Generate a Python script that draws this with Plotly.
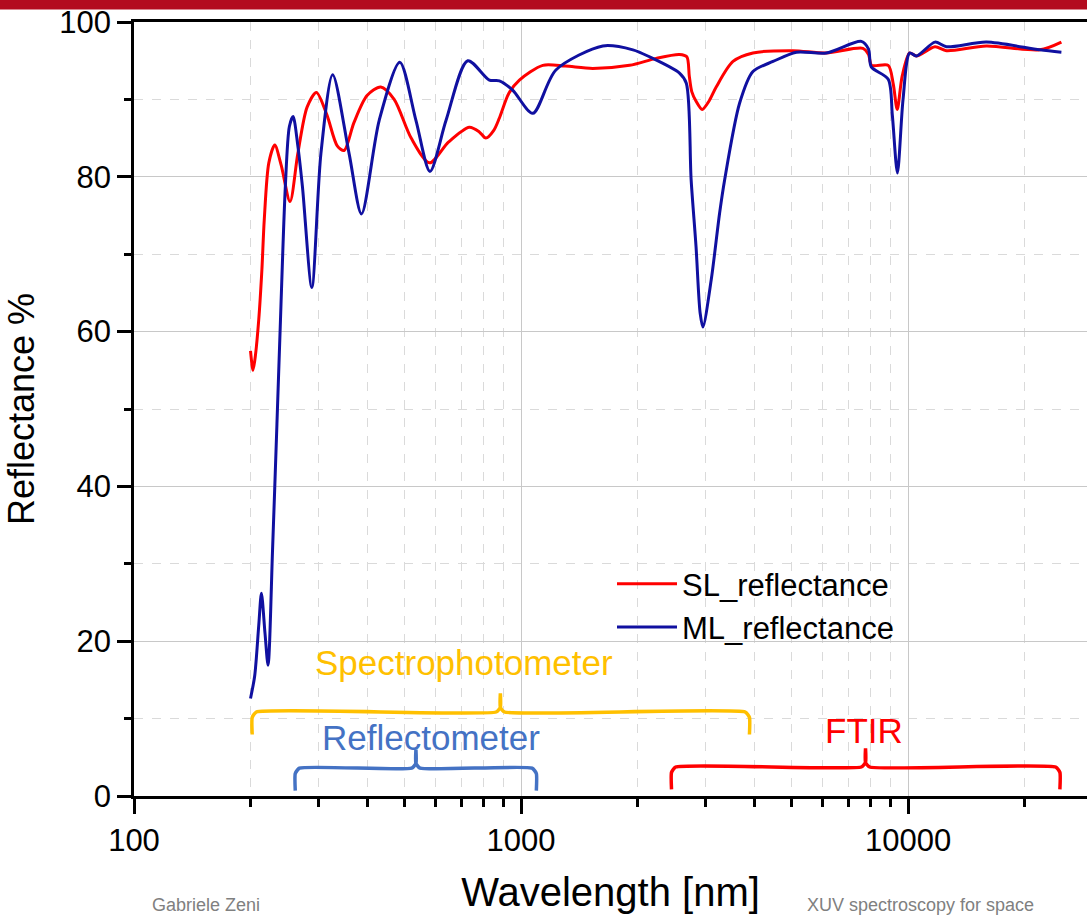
import math
import plotly.graph_objects as go

# ---------------- data ----------------
sl_wavelength = [200, 203, 206, 210, 214, 217, 223, 231, 240, 253, 265, 280, 296, 315, 335, 349,
                 370, 400, 434, 470, 520, 580, 650, 735, 780, 811, 850, 879, 930, 990, 1138, 1300,
                 1531, 1907, 2233, 2566, 2680, 2720, 2760, 2830, 2937, 3060, 3192, 3527, 3972, 5036,
                 6140, 7640, 7900, 8050, 8880, 9150, 9370, 9650, 10090, 10500, 11730, 12560, 15920,
                 21880, 24880]
sl_reflectance = [57.5, 55.0, 57.0, 61.5, 68.0, 74.4, 81.8, 84.1, 81.5, 76.8, 83.0, 89.0, 90.9, 88.0,
                  84.0, 83.4, 87.0, 90.5, 91.6, 90.0, 85.0, 81.8, 84.5, 86.4, 85.8, 85.0, 86.0, 87.6,
                  90.8, 92.5, 94.4, 94.3, 94.0, 94.4, 95.3, 95.8, 95.5, 93.0, 91.0, 89.8, 88.7, 89.8,
                  91.6, 94.9, 96.0, 96.3, 96.0, 96.6, 95.8, 94.4, 94.4, 92.0, 88.7, 93.0, 96.0, 95.6,
                  96.8, 96.3, 96.9, 96.4, 97.4]

ml_wavelength = [200, 205, 210, 213.4, 218, 222, 228, 234, 239, 246, 252, 257.6, 265, 272.4, 288,
                 304, 326, 359.5, 387, 430, 486, 535, 581.6, 640, 728, 828, 879, 951, 1072, 1230,
                 1626, 1945, 2147, 2566, 2672, 2750, 2831, 2901, 2950, 3099, 3257, 3356, 3668, 3972,
                 4476, 5145, 6140, 7570, 7900, 8030, 8880, 9100, 9380, 9700, 10090, 10500, 11730,
                 12560, 15920, 21880, 24880]
ml_reflectance = [12.6, 15.5, 22.0, 26.2, 21.0, 16.9, 31.8, 48.0, 61.5, 78.7, 86.5, 87.8, 84.0, 78.7,
                  65.7, 83.0, 93.2, 83.0, 75.2, 87.3, 94.8, 87.3, 80.7, 87.3, 95.0, 92.5, 92.4, 91.2,
                  88.2, 93.8, 96.9, 96.4, 95.5, 93.4, 92.1, 79.6, 71.0, 62.4, 60.6, 66.7, 75.3, 79.6,
                  89.5, 93.6, 94.9, 96.1, 96.0, 97.5, 96.5, 94.2, 92.6, 88.0, 80.5, 90.0, 96.0, 95.6,
                  97.4, 96.8, 97.4, 96.4, 96.1]

# instrument ranges (nm) shown by braces
range_names = ["Spectrophotometer", "Reflectometer", "FTIR"]
range_start = [202, 261, 2447]
range_end = [3890, 1095, 24660]
range_center = [884, 535, 7760]
range_colors = ["#FFC000", "#4472C4", "#FF0000"]
range_brace_level = [10.85, 3.6, 3.75]
range_label_x = [713, 586, 7670]
range_label_y = [17.2, 7.6, 8.5]

x_major = [100, 1000, 10000]
x_minor = [200, 300, 400, 500, 600, 700, 800, 900,
           2000, 3000, 4000, 5000, 6000, 7000, 8000, 9000, 20000]
y_major = [0, 20, 40, 60, 80, 100]
y_minor = [10, 30, 50, 70, 90]

FONT = "Liberation Sans, Arial, sans-serif"

# ---------------- figure ----------------
fig = go.Figure()

fig.add_trace(go.Scatter(x=sl_wavelength, y=sl_reflectance, mode="lines", name="SL_reflectance",
                         line=dict(color="#FF0000", width=3, shape="spline", smoothing=0.8)))
fig.add_trace(go.Scatter(x=ml_wavelength, y=ml_reflectance, mode="lines", name="ML_reflectance",
                         line=dict(color="#1010A0", width=3, shape="spline", smoothing=0.8)))

# braces
for name, x0, x1, xc, col, lvl in zip(range_names, range_start, range_end, range_center,
                                      range_colors, range_brace_level):
    leg = 2.9
    tip = 2.4
    bx = [x0, x0, x0 * 1.025, xc * 0.975, xc, xc, xc, xc * 1.025, x1 * 0.975, x1, x1]
    by = [lvl - leg, lvl - 0.7, lvl, lvl, lvl + 0.6, lvl + tip, lvl + 0.6, lvl, lvl, lvl - 0.7, lvl - leg]
    fig.add_trace(go.Scatter(x=bx, y=by, mode="lines", showlegend=False, hoverinfo="skip",
                             line=dict(color=col, width=3.5, shape="spline", smoothing=0.5)))

for name, lx, ly, col in zip(range_names, range_label_x, range_label_y, range_colors):
    fig.add_annotation(x=math.log10(lx), y=ly, xref="x", yref="y", text=name, showarrow=False,
                       font=dict(size=35, color=col, family=FONT))

# slide header bar
fig.add_shape(type="rect", xref="paper", yref="paper", x0=-0.2, x1=1.05,
              y0=1 + 12.5 / 774, y1=1 + 23 / 774, fillcolor="#B30B1F", line_width=0, layer="above")

# footer texts
fig.add_annotation(xref="paper", yref="paper", x=(150 - 134) / 953, y=-(893 - 796) / 774,
                   xanchor="left", yanchor="top", text="Gabriele Zeni", showarrow=False,
                   font=dict(size=18, color="#808080", family=FONT))
fig.add_annotation(xref="paper", yref="paper", x=(805 - 134) / 953, y=-(893 - 796) / 774,
                   xanchor="left", yanchor="top", text="XUV spectroscopy for space",
                   showarrow=False,
                   font=dict(size=18, color="#808080", family=FONT))

fig.update_layout(
    width=1087, height=917,
    margin=dict(l=134, r=0, t=22, b=121, autoexpand=False),
    paper_bgcolor="white", plot_bgcolor="white",
    font=dict(family=FONT, color="black"),
    legend=dict(x=(612 - 134) / 953, y=(796 - 557) / 774, xanchor="left", yanchor="top",
                font=dict(size=31, color="black"), bgcolor="rgba(0,0,0,0)",
                itemwidth=60, tracegroupgap=0),
    showlegend=True,
)

fig.update_xaxes(
    type="log", range=[2, 4.462], automargin=False,
    tickmode="array", tickvals=x_major, ticktext=[str(v) for v in x_major],
    ticks="outside", ticklen=15, tickwidth=2.5, tickcolor="black",
    tickfont=dict(size=31),
    showline=True, linecolor="black", linewidth=2.5, mirror=True,
    showgrid=True, gridcolor="#C8C8C8", gridwidth=1.2,
    minor=dict(tickmode="array", tickvals=x_minor, ticks="outside", ticklen=8, tickwidth=2.5,
               tickcolor="black", showgrid=True, gridcolor="#DADADA", griddash="dash", gridwidth=1),
    title=dict(text="Wavelength [nm]", font=dict(size=40), standoff=22),
    zeroline=False,
)
fig.update_yaxes(
    range=[0, 100], automargin=False,
    tickmode="array", tickvals=y_major,
    ticks="outside", ticklen=14, tickwidth=2.5, tickcolor="black",
    tickfont=dict(size=31),
    showline=True, linecolor="black", linewidth=2.5, mirror=False,
    showgrid=True, gridcolor="#C8C8C8", gridwidth=1.2,
    minor=dict(tickmode="array", tickvals=y_minor, ticks="outside", ticklen=7,
               tickwidth=2.5, tickcolor="black", showgrid=True, gridcolor="#DADADA",
               griddash="dash", gridwidth=1),
    title=dict(text="Reflectance %", font=dict(size=36), standoff=14),
    zeroline=False,
)

fig.write_html("out.html", config={"displayModeBar": False},
               post_script="document.body.style.margin='0';document.body.style.overflow='hidden';")
